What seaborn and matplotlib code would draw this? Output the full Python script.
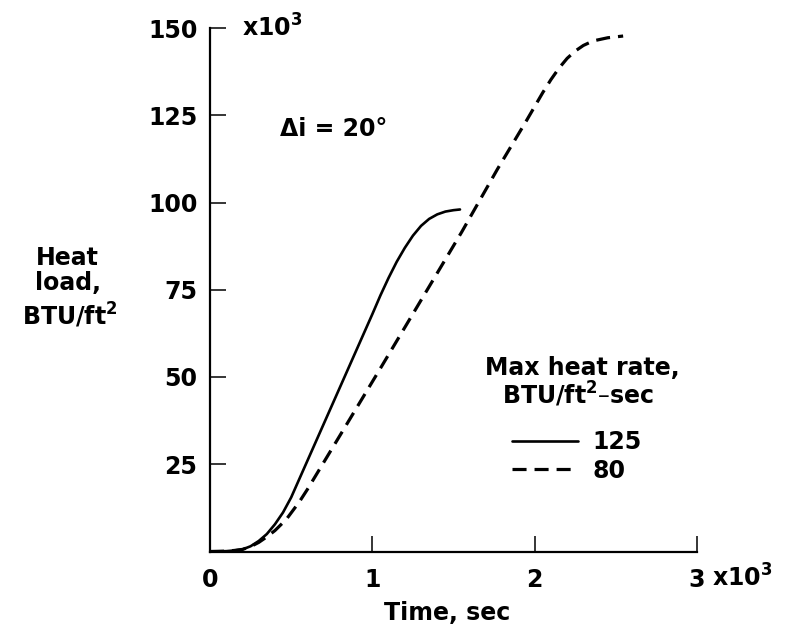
import matplotlib
matplotlib.use('Agg')
import matplotlib.pyplot as plt
from matplotlib.lines import Line2D
import seaborn as sns
import pandas as pd

# ---- data ----
time_125 = [0.0, 0.1, 0.15, 0.2, 0.25, 0.3, 0.35, 0.4, 0.45, 0.5, 0.6, 0.7, 0.8, 0.9, 1.0,
            1.05, 1.1, 1.15, 1.2, 1.25, 1.3, 1.35, 1.4, 1.45, 1.5, 1.54]
load_125 = [0.0, 0.1, 0.3, 0.6, 1.5, 3.0, 5.0, 7.8, 11.2, 15.5, 26.0, 36.5, 47.0, 57.5, 68.0,
            73.4, 78.4, 83.0, 87.0, 90.5, 93.3, 95.3, 96.6, 97.4, 97.8, 98.0]
time_80 = [0.0, 0.1, 0.15, 0.2, 0.25, 0.3, 0.35, 0.4, 0.47, 0.55, 0.6, 0.8, 1.05, 1.3, 1.55,
           1.77, 1.95, 2.05, 2.1, 2.15, 2.2, 2.25, 2.3, 2.36, 2.45, 2.545]
load_80 = [0.0, 0.1, 0.3, 0.6, 1.4, 2.6, 4.2, 6.0, 9.2, 14.2, 17.8, 33.2, 52.5, 72.0, 91.5,
           109.5, 123.5, 131.5, 135.2, 138.5, 141.3, 143.4, 145.0, 146.3, 147.2, 147.7]
series_labels = ['125', '80']
x_ticks = [0, 1, 2, 3]
x_tick_labels = ['0', '1', '2', '3']
y_ticks = [25, 50, 75, 100, 125, 150]
y_tick_labels = ['25', '50', '75', '100', '125', '150']

sns.set_theme(style='ticks')
plt.rcParams['font.family'] = ['DejaVu Sans']
plt.rcParams['font.weight'] = 'bold'
plt.rcParams['mathtext.fontset'] = 'dejavusans'
plt.rcParams['mathtext.default'] = 'bf'
plt.rcParams['text.color'] = 'black'
plt.rcParams['axes.labelcolor'] = 'black'
plt.rcParams['xtick.color'] = 'black'
plt.rcParams['ytick.color'] = 'black'

df = pd.concat([
    pd.DataFrame({'t': time_125, 'load': load_125, 'rate': series_labels[0]}),
    pd.DataFrame({'t': time_80, 'load': load_80, 'rate': series_labels[1]}),
], ignore_index=True)

W, H = 793, 629
FS = 17
fig = plt.figure(figsize=(W / 100, H / 100), dpi=100)
ax = fig.add_axes([210 / W, 1 - 551.5 / H, 487 / W, (551.5 - 28) / H])

DASH = (4.4, 2.5)
sns.lineplot(data=df, x='t', y='load', style='rate', style_order=series_labels,
             dashes={series_labels[0]: '', series_labels[1]: DASH},
             color='black', legend=False, ax=ax, estimator=None, sort=False)
ax.lines[0].set_linewidth(1.9)
ax.lines[1].set_linewidth(2.3)

ax.set_xlim(0, 3)
ax.set_ylim(0, 150)
ax.set_xticks(x_ticks)
ax.set_xticklabels(x_tick_labels)
ax.set_yticks(y_ticks)
ax.set_yticklabels(y_tick_labels)
ax.tick_params(axis='both', direction='in', length=11.5, width=1.1,
               color='black', labelsize=FS, labelcolor='black')
ax.tick_params(axis='x', pad=12)
ax.tick_params(axis='y', pad=9)
for s in ['top', 'right']:
    ax.spines[s].set_visible(False)
for s in ['left', 'bottom']:
    ax.spines[s].set_linewidth(1.6)
    ax.spines[s].set_color('black')
ax.set_facecolor('white')

ax.set_xlabel('Time, sec', fontsize=FS, fontweight='bold', color='black')
ax.set_ylabel('')
ax.xaxis.set_label_coords((447 - 210) / 487, (551.5 - 601) / 523.5)

def ftext(x, y, s, **kw):
    fig.text(x / W, 1 - y / H, s, fontsize=FS, fontweight='bold', color='black',
             va='baseline', **kw)

ftext(242, 37, 'x10$^3$', ha='left')
ftext(712, 587, 'x10$^3$', ha='left')
ftext(280, 136, '\u0394i = 20\u00b0', ha='left')
ftext(67, 265, 'Heat', ha='center')
ftext(68, 290, 'load,', ha='center')
ftext(70, 325, 'BTU/ft$^2$', ha='center')
ftext(582, 375, 'Max heat rate,', ha='center')
ftext(578, 404, 'BTU/ft$^2$\u2013sec', ha='center')

handles = [Line2D([], [], color='black', lw=1.9),
           Line2D([], [], color='black', lw=2.3, dashes=DASH)]
ax.legend(handles, series_labels, loc='upper left',
          bbox_to_anchor=(512 / W, 1 - 430 / H), bbox_transform=fig.transFigure,
          frameon=False, borderpad=0, borderaxespad=0, handlelength=2.8,
          handletextpad=0.6, labelspacing=0.2, fontsize=FS, labelcolor='black')

fig.savefig('out.png', dpi=100, facecolor='white')
